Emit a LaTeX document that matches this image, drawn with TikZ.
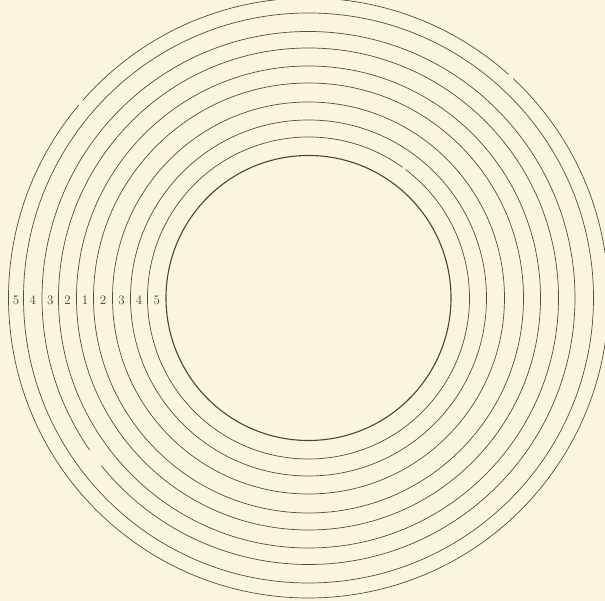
\documentclass[tikz,border=0pt]{standalone}
\usepackage{tikz}
\definecolor{paper}{RGB}{250,246,219}
\definecolor{ink}{RGB}{80,80,62}
\begin{document}
\begin{tikzpicture}[x=1pt,y=1pt,
  ring/.style={draw=ink,line width=0.7pt},
  inner ring/.style={draw=ink!90!black,line width=1.1pt},
  num/.style={text=ink!85!black,font=\fontsize{13}{13}\selectfont,inner sep=0pt}]
\fill[paper] (0,0) rectangle (605,601);
\useasboundingbox (0,0) rectangle (605,601);
\clip (0,0) rectangle (605,601);
\coordinate (c) at (308.5,303);
% circle 1 (outermost), with two small breaks
\draw[ring] (c) ++(48.2:300) arc[start angle=48.2,end angle=138.8,radius=300];
\draw[ring] (c) ++(140:300) arc[start angle=140,end angle=407,radius=300];
\draw[ring] (c) circle[radius=285];
% circle 3, with a break at lower left
\draw[ring] (c) ++(219:266.5) arc[start angle=219,end angle=574.7,radius=266.5];
\foreach \r in {250,232,215,196,178}
  \draw[ring] (c) circle[radius=\r];
% circle 9, with a small break at upper right
\draw[ring] (c) ++(54.3:161) arc[start angle=54.3,end angle=412.9,radius=161];
\draw[inner ring] (c) circle[radius=142.5];
% labels
\node[num] (a1) at (16,301) {5};
\node[num] (a2) at (32.75,301) {4};
\node[num] (a3) at (50.25,301) {3};
\node[num] (a4) at (67.5,301) {2};
\node[num] (a5) at (85,301) {1};
\node[num] (a6) at (103,301) {2};
\node[num] (a7) at (121.5,301) {3};
\node[num] (a8) at (139,301) {4};
\node[num] (a9) at (156.75,301) {5};
\end{tikzpicture}
\end{document}
